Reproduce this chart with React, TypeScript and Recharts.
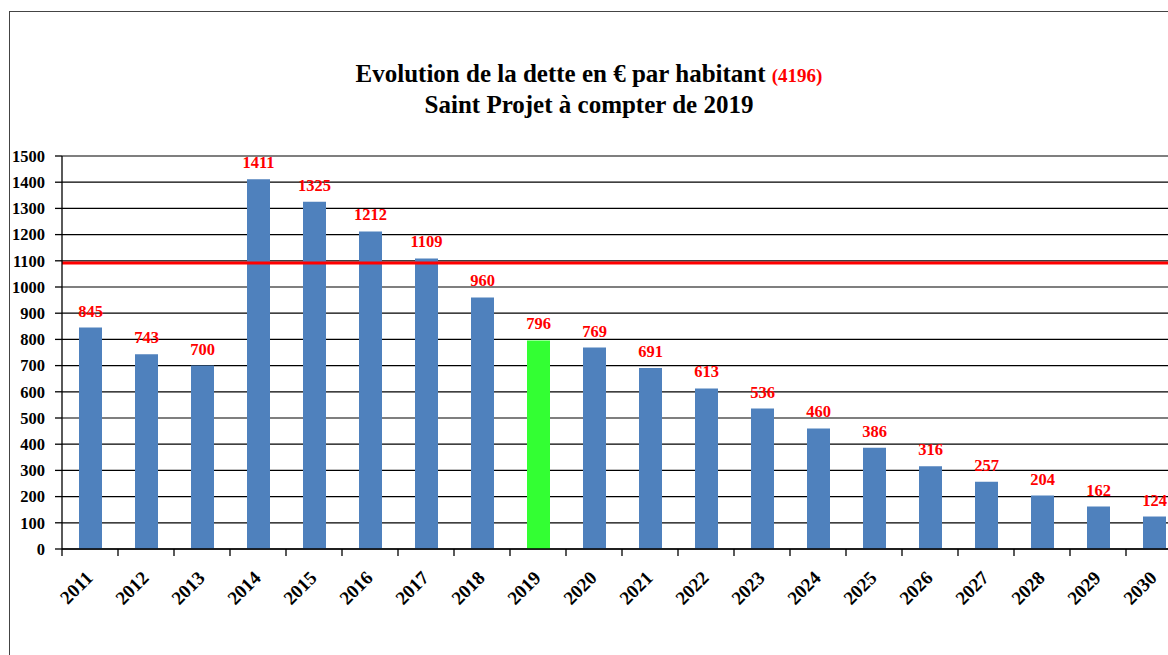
import React from "react";
import {
  BarChart,
  Bar,
  Cell,
  XAxis,
  YAxis,
  CartesianGrid,
  ReferenceLine,
  LabelList,
} from "recharts";

const years = [
  "2011", "2012", "2013", "2014", "2015", "2016", "2017", "2018", "2019", "2020",
  "2021", "2022", "2023", "2024", "2025", "2026", "2027", "2028", "2029", "2030",
];
const dettes = [
  845, 743, 700, 1411, 1325, 1212, 1109, 960, 796, 769,
  691, 613, 536, 460, 386, 316, 257, 204, 162, 124,
];
const yTicks = [0, 100, 200, 300, 400, 500, 600, 700, 800, 900, 1000, 1100, 1200, 1300, 1400, 1500];
const seuil = 1092;
const anneeRef = "2019";

const data = years.map((annee, i) => ({ annee, dette: dettes[i] }));

const serif = "'Liberation Serif', 'Times New Roman', serif";

function XTick(props: any) {
  const { x, y, payload, width, visibleTicksCount } = props;
  const band =
    typeof width === "number" && visibleTicksCount ? width / visibleTicksCount : 56;
  const left = x - band / 2;
  return (
    <g>
      <line x1={left} x2={left} y1={y} y2={y + 7} stroke="#000" strokeWidth={1.3} />
      <text
        transform={`translate(${x + 4},${y + 30}) rotate(-45)`}
        textAnchor="end"
        fontFamily={serif}
        fontWeight="bold"
        fontSize={19}
        fill="#000"
      >
        {payload.value}
      </text>
    </g>
  );
}

export default function App() {
  return (
    <div
      style={{
        position: "fixed",
        left: 0,
        top: 0,
        width: 1168,
        height: 655,
        overflow: "hidden",
        background: "#fff",
      }}
    >
      <div
        style={{
          position: "absolute",
          left: 9,
          top: 11,
          width: 1300,
          height: 800,
          borderLeft: "1.5px solid #444",
          borderTop: "1.5px solid #444",
        }}
      />
      <div
        style={{
          position: "absolute",
          left: 8,
          top: 59,
          width: 1162,
          textAlign: "center",
          fontFamily: serif,
          fontWeight: "bold",
          fontSize: 25,
          lineHeight: "29px",
          color: "#000",
        }}
      >
        <div>
          Evolution de la dette en € par habitant{" "}
          <span style={{ color: "#ff0000", fontSize: 19 }}>(4196)</span>
        </div>
        <div>Saint Projet à compter de 2019</div>
      </div>
      <div style={{ position: "absolute", left: 8, top: 8 }}>
        <BarChart
          width={1184}
          height={647}
          data={data}
          margin={{ top: 148, right: 10, bottom: 46, left: 0 }}
          barSize={23}
        >
          <CartesianGrid vertical={false} stroke="#000" strokeWidth={1.2} />
          <XAxis
            dataKey="annee"
            interval={0}
            tickLine={false}
            tickSize={0}
            tickMargin={0}
            height={60}
            axisLine={{ stroke: "#000", strokeWidth: 1.3 }}
            tick={<XTick />}
          />
          <YAxis
            width={54}
            domain={[0, 1500]}
            ticks={yTicks}
            interval={0}
            tickSize={7}
            tickMargin={10}
            axisLine={{ stroke: "#000", strokeWidth: 1.3 }}
            tickLine={{ stroke: "#000", strokeWidth: 1.3 }}
            tick={{
              fontFamily: serif,
              fontWeight: "bold",
              fontSize: 16.5,
              fill: "#000",
            }}
          />
          <ReferenceLine y={seuil} stroke="#ff0000" strokeWidth={3} />
          <Bar dataKey="dette" isAnimationActive={false}>
            {data.map((d) => (
              <Cell key={d.annee} fill={d.annee === anneeRef ? "#33ff33" : "#4f81bd"} />
            ))}
            <LabelList
              dataKey="dette"
              position="top"
              offset={11}
              fill="#ff0000"
              fontFamily={serif}
              fontWeight="bold"
              fontSize={16.5}
            />
          </Bar>
        </BarChart>
      </div>
    </div>
  );
}
